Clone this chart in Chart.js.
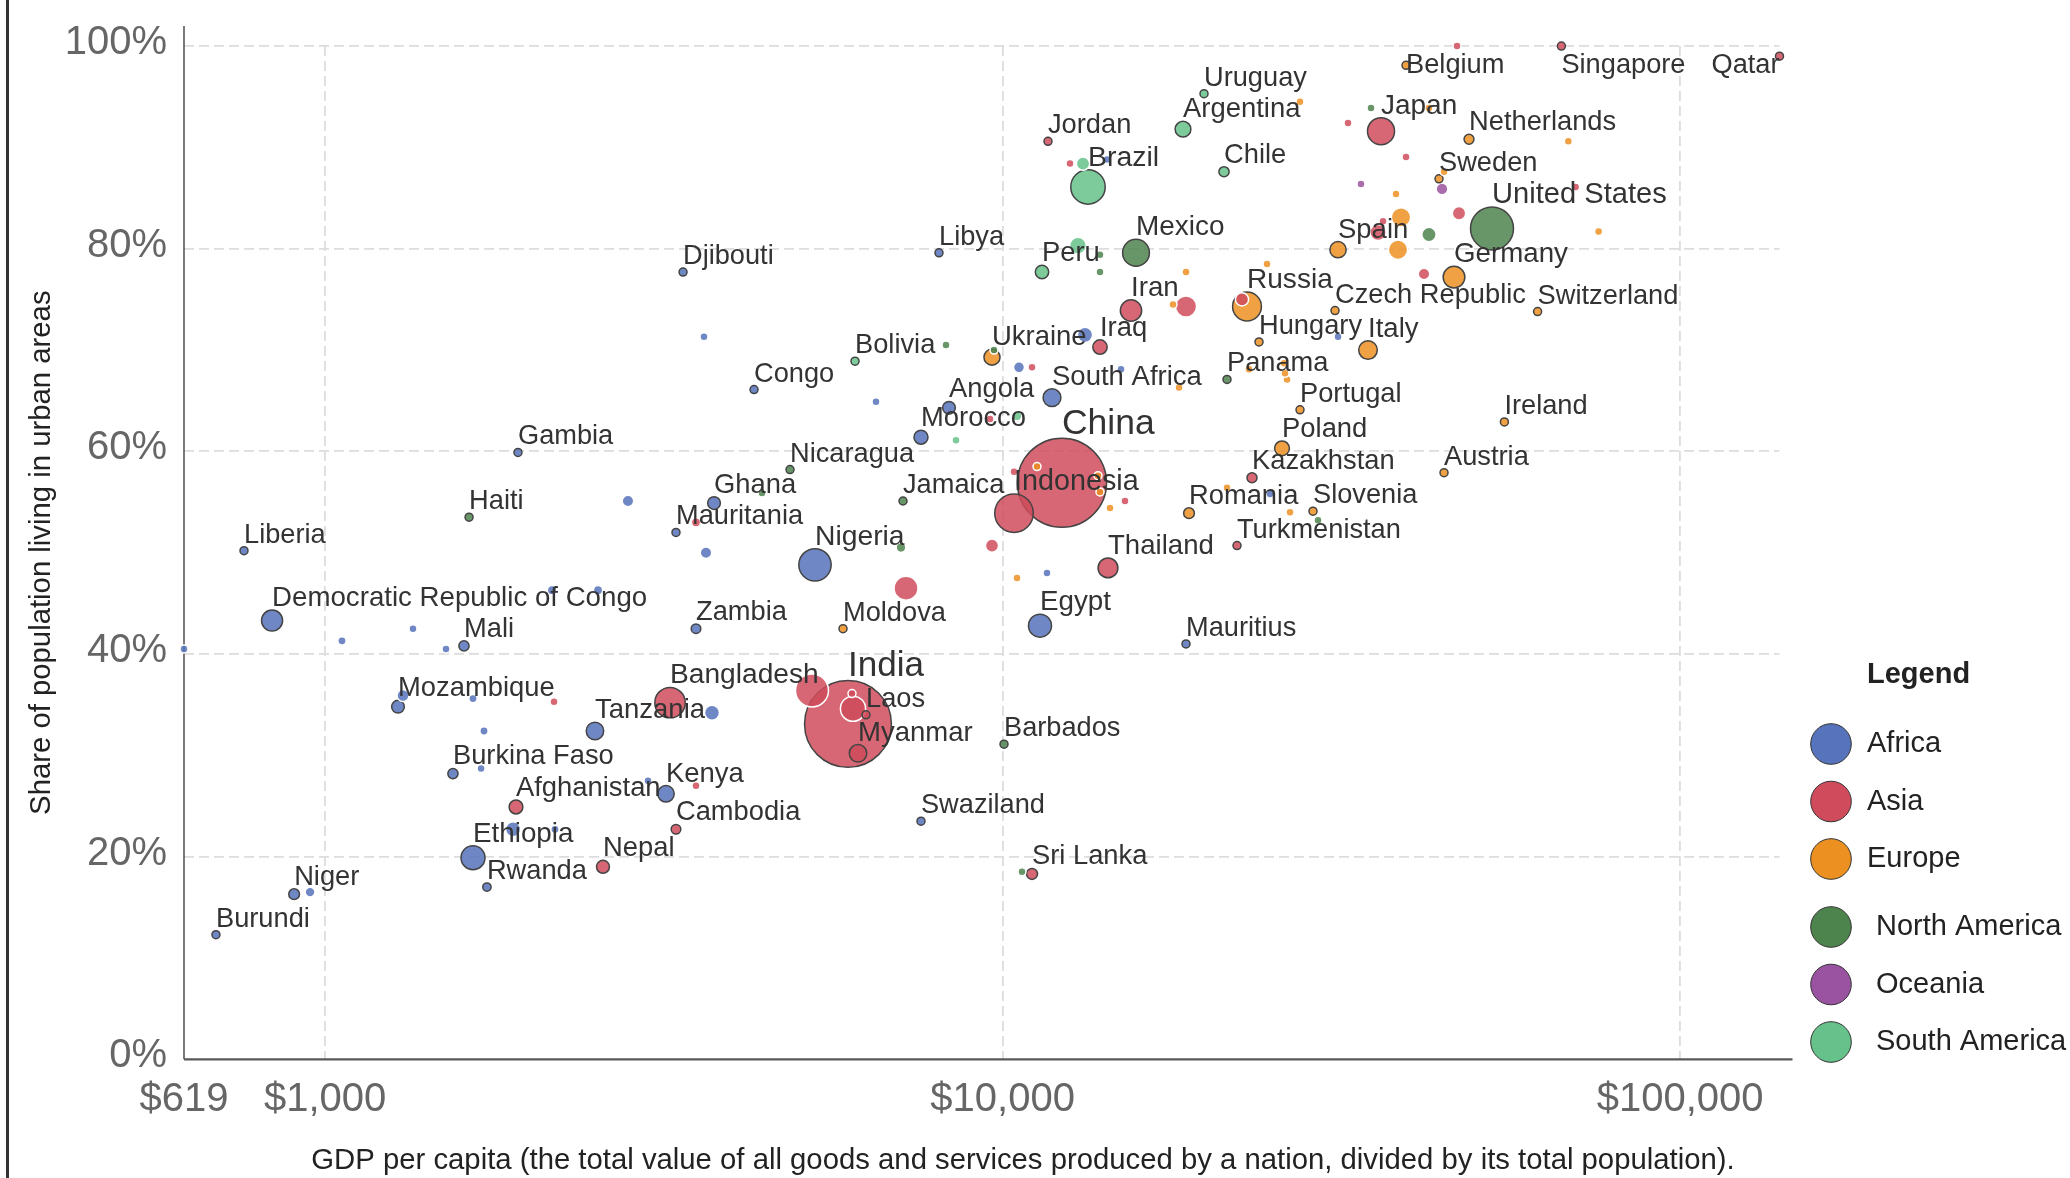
<!DOCTYPE html>
<html>
<head>
<meta charset="utf-8">
<script src="https://cdn.jsdelivr.net/npm/chart.js@4/dist/chart.umd.min.js"></script>
<style>
html,body{margin:0;padding:0;background:#fff;overflow:hidden;}
#wrap{position:relative;width:2070px;height:1178px;}
#wrap canvas{display:block;}
#edge{position:absolute;left:6px;top:0;width:2.5px;height:1178px;background:#333;}
</style>
</head>
<body>
<div id="wrap"><canvas id="c"></canvas><div id="edge"></div></div>
<script>
// ---------------- DATA ----------------
const countries = [
 "Burundi","Niger","Liberia","Democratic Republic of Congo","Haiti","Gambia","Mali","Mozambique","Burkina Faso","Ethiopia",
 "Rwanda","Afghanistan","Tanzania","Kenya","Nepal","Cambodia","Bangladesh","Zambia","Mauritania","Ghana",
 "Djibouti","Congo","Nicaragua","Bolivia","Nigeria","Moldova","India","Laos","Myanmar","Libya",
 "Ukraine","Angola","Morocco","Jamaica","Swaziland","Barbados","Egypt","South Africa","China","Indonesia",
 "Thailand","Iraq","Iran","Peru","Mexico","Brazil","Jordan","Argentina","Uruguay","Chile",
 "Russia","Panama","Hungary","Mauritius","Romania","Turkmenistan","Kazakhstan","Poland","Portugal","Slovenia",
 "Czech Republic","Italy","Spain","Japan","Belgium","Netherlands","Sweden","United States","Germany","Switzerland",
 "Ireland","Austria","Singapore","Qatar","Sri Lanka",
 // unlabeled countries
 "","","","","","","","","","","","","","","","","","","","","","","","","","",
 "","","","","","","","","","","","","","","","","","","","","","","",
 "","","","","","","","","","","","","","","","","","","","","","","",
 "","","","","","","","","","",
 "","",
 "","","",""
];
const continent = [
 "AF","AF","AF","AF","NA","AF","AF","AF","AF","AF",
 "AF","AS","AF","AF","AS","AS","AS","AF","AF","AF",
 "AF","AF","NA","SA","AF","EU","AS","AS","AS","AF",
 "EU","AF","AF","NA","AF","NA","AF","AF","AS","AS",
 "AS","AS","AS","SA","NA","SA","AS","SA","SA","SA",
 "EU","NA","EU","AF","EU","AS","AS","EU","EU","EU",
 "EU","EU","EU","AS","EU","EU","EU","NA","EU","EU",
 "EU","EU","AS","AS","AS",
 "AF","AF","AF","AF","AF","AF","AF","AF","AF","AF","AF","AF","AF","AF","AF","AF","AF","AF","AF","AF","AF","AF","AF","AF","AF","AF",
 "AS","AS","AS","AS","AS","AS","AS","AS","AS","AS","AS","AS","AS","AS","AS","AS","AS","AS","AS","AS","AS","AS","AS",
 "EU","EU","EU","EU","EU","EU","EU","EU","EU","EU","EU","EU","EU","EU","EU","EU","EU","EU","EU","EU","EU","EU","EU",
 "NA","NA","NA","NA","NA","NA","NA","NA","NA","NA",
 "OC","OC",
 "SA","SA","SA","SA"
];
const gdpPerCapita = [
 690,900,759,835,1631,1926,1603,1281,1544,1653,
 1733,1913,2502,3185,2571,3295,3229,3527,3295,3750,
 3375,4296,4855,6055,5285,5813,5912,6285,6117,8055,
 9645,8334,7577,7128,7577,10047,11354,11827,12235,10394,
 14306,13922,15470,11432,15735,13366,11667,18460,19826,21221,
 22946,21438,23901,18649,18841,22179,23339,25845,27475,28716,
 30946,34619,31264,36183,39391,48796,44066,52762,46370,61606,
 55033,44822,66796,140174,11050,
 3624,6503,10572,14953,14258,13231,31264,24812,11627,2799,3649,2162,2528,1059,1348,1508,619,1303,1653,1716,1699,950,1894,2184,2996,3724,
 46845,32343,39391,12573,47165,35816,36430,41875,18649,22559,11050,9580,10394,15157,9645,7201,3527,5231,5993,6014,2177,3527,70099,
 27475,42587,44822,38075,38727,38334,24560,18649,17843,23102,26021,26110,26288,18211,11239,13828,13922,14404,10501,21438,26557,68382,75798,
 8249,9711,34974,13922,13922,42587,4414,7079,29209,10681,
 33803,44518,
 13141,12919,8534,10501
];
const urbanShare = [
 12.3,16.3,50.2,43.3,53.5,59.9,40.8,34.8,28.2,19.9,
 17.0,24.9,32.4,26.2,19.0,22.7,35.2,42.5,52.0,54.9,
 77.7,66.1,58.2,68.9,48.8,42.5,33.1,34.0,30.2,79.6,
 69.3,64.3,61.4,55.1,23.5,31.1,42.8,65.3,56.9,53.9,
 48.5,70.3,73.9,77.7,79.6,86.1,90.6,91.8,95.3,87.6,
 74.3,67.1,70.8,41.0,53.9,50.7,57.4,60.3,64.1,54.1,
 73.9,70.0,79.9,91.6,98.1,90.8,86.9,82.0,77.2,73.8,
 62.9,57.9,100,99.0,18.3,
 71.3,64.9,68.3,68.1,88.8,71.5,71.3,55.8,48.0,55.1,50.0,46.3,46.3,41.3,42.5,40.5,40.5,35.9,35.6,32.4,28.7,16.5,22.7,22.7,27.5,34.2,
 100,92.4,89.05,88.4,83.5,81.6,82.7,77.5,74.3,75.0,68.3,63.2,58.0,55.1,50.7,46.5,53.0,36.4,36.1,34.6,35.3,27.0,86.1,
 94.5,93.9,87.6,85.4,83.1,79.9,78.5,77.7,74.5,68.1,68.7,67.7,67.1,66.3,58.5,57.6,56.0,54.4,47.5,56.4,54.0,90.6,81.7,
 70.5,70.0,93.9,79.4,77.7,81.4,55.9,50.5,53.2,18.5,
 86.4,85.9,
 88.4,80.3,61.1,63.5
];
const populationM = [
 11,20,4.5,77,11,2,18,28,18,100,
 12,33,53,47,29,16,161,16,4,28,
 0.9,5,6,11,182,4,1310,7,53,6,
 45,28,34,3,1.3,0.3,92,55,1380,258,
 68,36,79,31,125,206,9,43,3.4,18,
 144,4,10,1.3,20,5.5,17.5,38,10,2,
 10.5,60,46,127,11,17,10,321,82,8,
 4.7,8.7,5.5,2.2,21,
 1,1,21,1,1,40,1,1,1,23,23,15,15,12,1,8,5,25,12,12,1,17,39,12,1,39,
 4,8,3,6,31,45,4,23,78,30,4,3,4,10,30,100,15,189,8,110,1,1,4,
 1,1,5,5,65,65,11,9.5,7,2,1.3,1,2,1,7,3,7,1,3,4,5,1,5,
 6,1,4,5,1,36,8,16,1,1,
 4.5,24,
 31,48,7,16
];
const legendNames = ["Africa","Asia","Europe","North America","Oceania","South America"];
const legendCodes = ["AF","AS","EU","NA","OC","SA"];
const legendColors = ["#5673bb","#d04c5c","#ec9022","#4d844e","#9a53a0","#66c28a"];
const xTickValues = [619, 1000, 10000, 100000];
const yTickValues = [0, 20, 40, 60, 80, 100];
const xTitle = "GDP per capita (the total value of all goods and services produced by a nation, divided by its total population).";
const yTitle = "Share of population living in urban areas";

// ---------------- BUILD ----------------
const FONT = '"Liberation Sans", Arial, Helvetica, sans-serif';
Chart.defaults.font.family = FONT;
function hexA(hex, a){
  const n = parseInt(hex.slice(1),16);
  return `rgba(${(n>>16)&255},${(n>>8)&255},${n&255},${a})`;
}
function colorOf(code){ return legendColors[legendCodes.indexOf(code)]; }
function radiusFor(pop){ return Math.max(4, 1.2*Math.sqrt(pop)); }
function labelSizeFor(pop){ return 27.2 + 0.006*pop; }

const order = countries.map((_, i) => i).sort((a, b) => populationM[b] - populationM[a]);
const points = order.map(i => ({x: gdpPerCapita[i], y: urbanShare[i], r: radiusFor(populationM[i])}));
const fills = order.map(i => hexA(colorOf(continent[i]), 0.85));
const strokes = order.map(i => countries[i] ? '#444' : '#ffffff');

const decor = {
  id: 'decor',
  beforeDatasetsDraw(chart){
    const {left, right, top, bottom} = chart.chartArea;
    const ctx = chart.ctx;
    ctx.save();
    ctx.strokeStyle = '#333'; ctx.lineWidth = 1.3;
    ctx.beginPath(); ctx.moveTo(left, top - 20); ctx.lineTo(left, bottom); ctx.stroke();
    ctx.strokeStyle = '#595959'; ctx.lineWidth = 2.2;
    ctx.beginPath(); ctx.moveTo(left, bottom); ctx.lineTo(right + 13, bottom); ctx.stroke();
    ctx.restore();
  },
  afterDatasetsDraw(chart){
    const ctx = chart.ctx, area = chart.chartArea;
    const meta = chart.getDatasetMeta(0);
    ctx.save();
    ctx.fillStyle = '#333'; ctx.textAlign = 'left'; ctx.textBaseline = 'alphabetic';
    meta.data.forEach((el, j) => {
      const i = order[j];
      const name = countries[i];
      if (!name) return;
      const size = labelSizeFor(populationM[i]);
      ctx.font = `${size}px ${FONT}`;
      const r = el.options.radius;
      const w = ctx.measureText(name).width;
      let x = el.x, y = el.y - r - 4;
      if (x + w > area.right) x = area.right - w;
      if (y - size * 0.72 < area.top) y = area.top + size;
      ctx.fillText(name, x, y);
    });
    ctx.restore();
  },
  afterDraw(chart){
    const ctx = chart.ctx, area = chart.chartArea;
    ctx.save();
    // x axis title
    ctx.fillStyle = '#222'; ctx.textAlign = 'center'; ctx.textBaseline = 'alphabetic';
    ctx.font = `29.3px ${FONT}`;
    ctx.fillText(xTitle, area.left + 839, 1169);
    // legend
    const lx = area.right + 51.5;
    ctx.textAlign = 'left'; ctx.textBaseline = 'middle';
    ctx.font = `bold 29px ${FONT}`; ctx.fillStyle = '#222';
    ctx.fillText('Legend', lx + 36, 675);
    legendNames.forEach((nm, k) => {
      const cy = 744 + k * 57.5 + (k >= 3 ? 10.5 : 0);
      ctx.beginPath(); ctx.arc(lx, cy, 20.3, 0, Math.PI * 2);
      ctx.fillStyle = legendColors[k]; ctx.fill();
      ctx.strokeStyle = '#333'; ctx.lineWidth = 1; ctx.stroke();
      ctx.fillStyle = '#222'; ctx.font = `29px ${FONT}`;
      ctx.fillText(nm, lx + (k >= 3 ? 45 : 36), cy);
    });
    ctx.restore();
  }
};

new Chart(document.getElementById('c'), {
  type: 'bubble',
  data: { datasets: [{ data: points, backgroundColor: fills, borderColor: strokes, borderWidth: 1.5, clip: false }] },
  options: {
    responsive: true, maintainAspectRatio: false, animation: false, events: [],
    layout: { padding: { left: 0, right: 290.5, top: 39.3, bottom: 0 } },
    plugins: { legend: { display: false }, tooltip: { enabled: false } },
    scales: {
      x: {
        type: 'logarithmic', min: 619, max: 140174,
        afterFit: s => { s.height = 118.7; },
        afterBuildTicks: s => { s.ticks = xTickValues.map(v => ({value: v})); },
        ticks: { autoSkip: false, maxRotation: 0, minRotation: 0, padding: 17, color: '#666', font: { size: 40 },
                 callback: v => '$' + Number(v).toLocaleString('en-US') },
        grid: { drawTicks: false, lineWidth: 1.8, color: c => (c.tick && c.tick.value === 619) ? 'rgba(0,0,0,0)' : '#dddddd' },
        border: { display: false, dash: [10, 5] }
      },
      y: {
        type: 'linear', min: 0, max: 100,
        afterFit: s => { s.width = 184; },
        afterBuildTicks: s => { s.ticks = yTickValues.map(v => ({value: v})); },
        ticks: { padding: 17, labelOffset: -3, color: '#666', font: { size: 40, lineHeight: 1 }, callback: v => v + '%' },
        grid: { drawTicks: false, lineWidth: 1.8, color: c => (c.tick && c.tick.value === 0) ? 'rgba(0,0,0,0)' : '#dddddd' },
        border: { display: false, dash: [10, 5] },
        title: { display: true, text: yTitle, color: '#222', font: { size: 29.3 }, padding: { top: 24, bottom: 0 } }
      }
    }
  },
  plugins: [decor]
});
</script>
</body>
</html>
